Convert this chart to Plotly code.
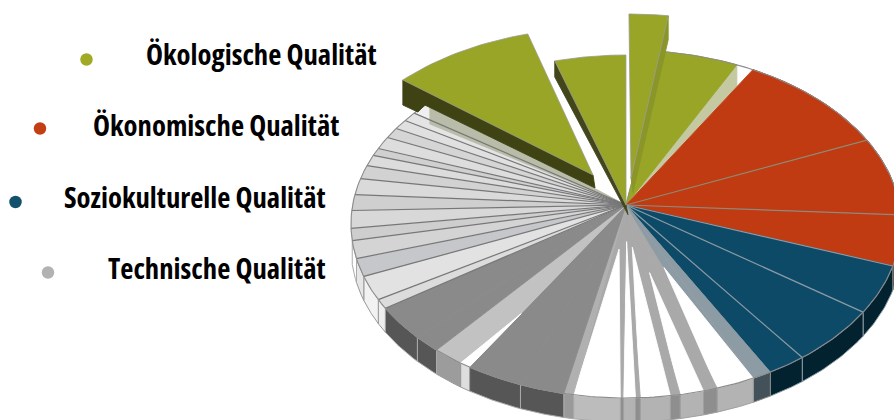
import numpy as np
import plotly.graph_objects as go

# ---------- data: share of the circle per criterion (percent) ----------
oekologisch = [8.47, 4.17, 2.28, 2.00, 2.33, 1.03]
oekonomisch = [9.36, 7.17, 4.72]
soziokulturell = [4.58, 5.47, 2.28]
technisch = [1.14, 2.28, 0.83, 1.39, 0.58, 1.75, 0.28, 0.69, 0.19, 2.72, 0.58,
             2.64, 3.36, 0.64, 1.83, 1.61, 3.25, 0.89, 2.28, 1.69, 1.67, 1.11,
             1.64, 1.47, 1.50, 1.25, 1.00, 0.69, 1.14, 0.97, 0.89, 0.86, 1.36]
legend_labels = ["Ökologische Qualität", "Ökonomische Qualität",
                 "Soziokulturelle Qualität", "Technische Qualität"]
legend_colors = ["#a0aa24", "#c43e14", "#12506c", "#b2b2b2"]

# ---------- styles, positions ----------
START = 314.5
CX, CY, RX, RY = 626, 224, 275, 174
APEX = (626, 205)
DEPTH = 24
GREEN, RED, BLUE = "#98a526", "#c03a12", "#0d4a68"
W, S, RIM = "#ffffff", "#a9a9a9", "#b3b3b3"
STEEL = "#8d9ca4"
DARK, DARKW = "#8a8a8a", "#565656"
# (top colour, wall colour, wall line, separator at slice start)
styles = [
    (GREEN, None, None, None), (GREEN, None, None, None), (GREEN, None, None, None),
    (GREEN, None, None, "#8f9a60"), (GREEN, None, None, None), (None, None, None, None),
    (RED, "#6e1c08", "#8b6a60", None), (RED, "#6e1c08", "#8b6a60", "#8f8a70"),
    (RED, "#4a1406", "#8b6a60", "#8f8a80"),
    (BLUE, "#03222f", "#8b9ba3", "#8b9ba3"), (BLUE, "#03222f", "#8b9ba3", "#8b9ba3"),
    (BLUE, "#03222f", "#8b9ba3", "#8b9ba3"),
    (STEEL, "#43525a", "#8a8a8a", None),
    (W, RIM, "#a0a0a0", None), (S, "#8e8e8e", "#a0a0a0", None),
    (W, RIM, "#a0a0a0", None), (S, "#8e8e8e", "#a0a0a0", None),
    (W, RIM, "#a0a0a0", None), (S, "#8e8e8e", "#a0a0a0", None),
    (W, RIM, "#a0a0a0", None), (S, "#8e8e8e", "#a0a0a0", None),
    (W, "#bcbcbc", "#a8a8a8", None), ("#b0b0b0", "#9a9a9a", "#a8a8a8", None),
    (DARK, DARKW, "#aaaaaa", None), (DARK, DARKW, "#aaaaaa", None),
    ("#c2c2c2", "#dedede", "#999999", None), ("#c2c2c2", "#9c9c9c", "#999999", None),
    (DARK, DARKW, "#aaaaaa", None), (DARK, DARKW, "#aaaaaa", None),
    ("#dcdcdc", "#eeeeee", "#999999", "#777777"), ("#e2e2e2", "#f2f2f2", "#999999", "#777777"),
    ("#c6c7ca", "#e6e6e6", "#999999", "#777777"), ("#d4d4d4", "#ffffff", "#aaaaaa", "#777777"),
    ("#cecece", None, None, "#777777"), ("#d8d8d8", None, None, "#777777"),
    ("#cfcfcf", None, None, "#777777"), ("#dadada", None, None, "#777777"),
    ("#d2d2d2", None, None, "#777777"), ("#dcdcdc", None, None, "#777777"),
    ("#d0d0d0", None, None, "#777777"), ("#dddddd", None, None, "#777777"),
    ("#d5d5d5", None, None, "#777777"), ("#e0e0e0", None, None, "#777777"),
    ("#e4e4e4", None, None, "#777777"), ("#f0f0f0", None, None, "#777777"),
    (W, None, None, "#777777"),
]
SLIVER = 25  # slice index of the partly hidden white sliver
# white floor wedges: slice index -> how far from the centre their tip begins
FLOOR_TIPS = {13: 0.35, 15: 0.36, 17: 0.22, 19: 0.19, 21: 0.23}

values = oekologisch + oekonomisch + soziokulturell + technisch
edges = START + np.concatenate([[0], np.cumsum(values)]) * 360 / sum(values)


def rim_pts(a, b, n=24):
    t = np.radians(np.linspace(a, b, n))
    return CX + RX * np.sin(t), CY - RY * np.cos(t)


def poly(x, y, fill, line=None, width=0.9):
    return go.Scatter(x=list(x) + [x[0]], y=list(y) + [y[0]], mode="lines", fill="toself",
                      fillcolor=fill, line=dict(color=line or fill, width=width),
                      hoverinfo="skip", showlegend=False)


def ray(a, color, width=1.2):
    x, y = rim_pts(a, a, 1)
    return go.Scatter(x=[APEX[0], x[0]], y=[APEX[1], y[0]], mode="lines",
                      line=dict(color=color, width=width), hoverinfo="skip", showlegend=False)


fig = go.Figure()
slices = list(zip(edges[:-1], edges[1:], styles))
exploded = slices[:3]
regular = slices[3:]

# rim walls
for a, b, (top, wall, wl, sep) in regular:
    if wall:
        x, y = rim_pts(a, b)
        fig.add_trace(poly(np.r_[x, x[::-1]], np.r_[y, y[::-1] + DEPTH], wall, wl, 1))

# ghost wall seen through the removed green slice
gap_a = slices[5][0]
x, y = rim_pts(gap_a, gap_a, 1)
fig.add_trace(poly([APEX[0], x[0], x[0]], [APEX[1], y[0], y[0] + 21], "#c4c9a2"))

# top faces
for i, (a, b, (top, wall, wl, sep)) in enumerate(slices):
    if i < 3 or not top:
        continue
    x, y = rim_pts(a, b)
    if i in FLOOR_TIPS:
        fig.add_trace(poly(np.r_[APEX[0], x], np.r_[APEX[1], y], S))
        f = FLOOR_TIPS[i]
        tx, ty = APEX[0] + (x[12] - APEX[0]) * f, APEX[1] + (y[12] - APEX[1]) * f
        if i == 13:  # steel band continues down to the first floor wedge
            fig.add_trace(poly([APEX[0], x[0], tx], [APEX[1], y[0], ty], STEEL))
        fig.add_trace(poly(np.r_[tx, x], np.r_[ty, y], W))
    else:
        fig.add_trace(poly(np.r_[APEX[0], x], np.r_[APEX[1], y], top))

# pale wall under the large exploded slice
last = edges[-1]
x, y = rim_pts(last, last, 1)
fig.add_trace(poly([APEX[0], x[0], x[0]], [APEX[1], y[0], y[0] + 22], "#b9bca8"))

# white sliver between the light strip and the dark slice
a, b, _ = slices[SLIVER]
x, y = rim_pts(a, b)
fx = x[0] + (APEX[0] - x[0]) * 0.33
fy = y[0] + (APEX[1] - y[0]) * 0.33
fig.add_trace(poly(np.r_[fx, x], np.r_[fy, y], "#ffffff"))

# separators
for a, b, (top, wall, wl, sep) in regular:
    if sep:
        fig.add_trace(ray(a, sep))

# rim outline
x, y = rim_pts(edges[3], edges[-1], 300)
fig.add_trace(go.Scatter(x=x, y=y, mode="lines", line=dict(color="#8c8c8c", width=1.1),
                         hoverinfo="skip", showlegend=False))

# exploded slices: (rim dx, rim dy, apex dx, apex dy, wall side, wall colour, wall depth, notch)
explode = [(-27, -22, -33, -30, 0, "#3f4314", 25, True),
           (0, 5, 0, 0, 0, "#42461a", 16, False),
           (3, -36, 5, -27, 1, "#8a9628", 24, False)]
for (a, b, st), (rdx, rdy, adx, ady, side, wc, d, notch) in zip(exploded, explode):
    x, y = rim_pts(a, b)
    x, y = x + rdx, y + rdy
    ax, ay = APEX[0] + adx, APEX[1] + ady
    ex, ey = (x[0], y[0]) if side == 0 else (x[-1], y[-1])
    if notch:
        fig.add_trace(poly([ex, ex, ex + 15, ex + 22, ax + 2, ax],
                           [ey, ey + d, ey + d + 7, ey + d, ay + d * 0.52, ay], wc))
    else:
        fig.add_trace(poly([ex, ex, ax + 2, ax], [ey, ey + d, ay + d * 0.6, ay], wc))
    fig.add_trace(poly(np.r_[ax, x], np.r_[ay, y], GREEN, "#9a9a8a", 0.8))

# legend
fig.add_trace(go.Scatter(x=[86.5, 40, 15.5, 48], y=[59.5, 128.5, 202, 272.5], mode="markers",
                         marker=dict(size=12.5, color=legend_colors), hoverinfo="skip", showlegend=False))
fig.add_trace(go.Scatter(x=[146, 93, 64, 108], y=[58, 129, 201, 272], mode="text", text=legend_labels,
                         textposition="middle right", hoverinfo="skip", showlegend=False,
                         textfont=dict(family="Open Sans", size=28.7, color="#000000", weight="bold")))

fig.update_layout(width=894, height=420, margin=dict(l=0, r=0, t=0, b=0),
                  paper_bgcolor="white", plot_bgcolor="white", showlegend=False,
                  xaxis=dict(range=[0, 894], visible=False, fixedrange=True),
                  yaxis=dict(range=[420, 0], visible=False, fixedrange=True))
fig.write_html("out.html", config=dict(displayModeBar=False), post_script=(
    "document.documentElement.style.margin='0';document.body.style.margin='0';"
    "document.querySelectorAll('.textpoint text').forEach(function(t){t.style.fontStretch='75%';});"))
